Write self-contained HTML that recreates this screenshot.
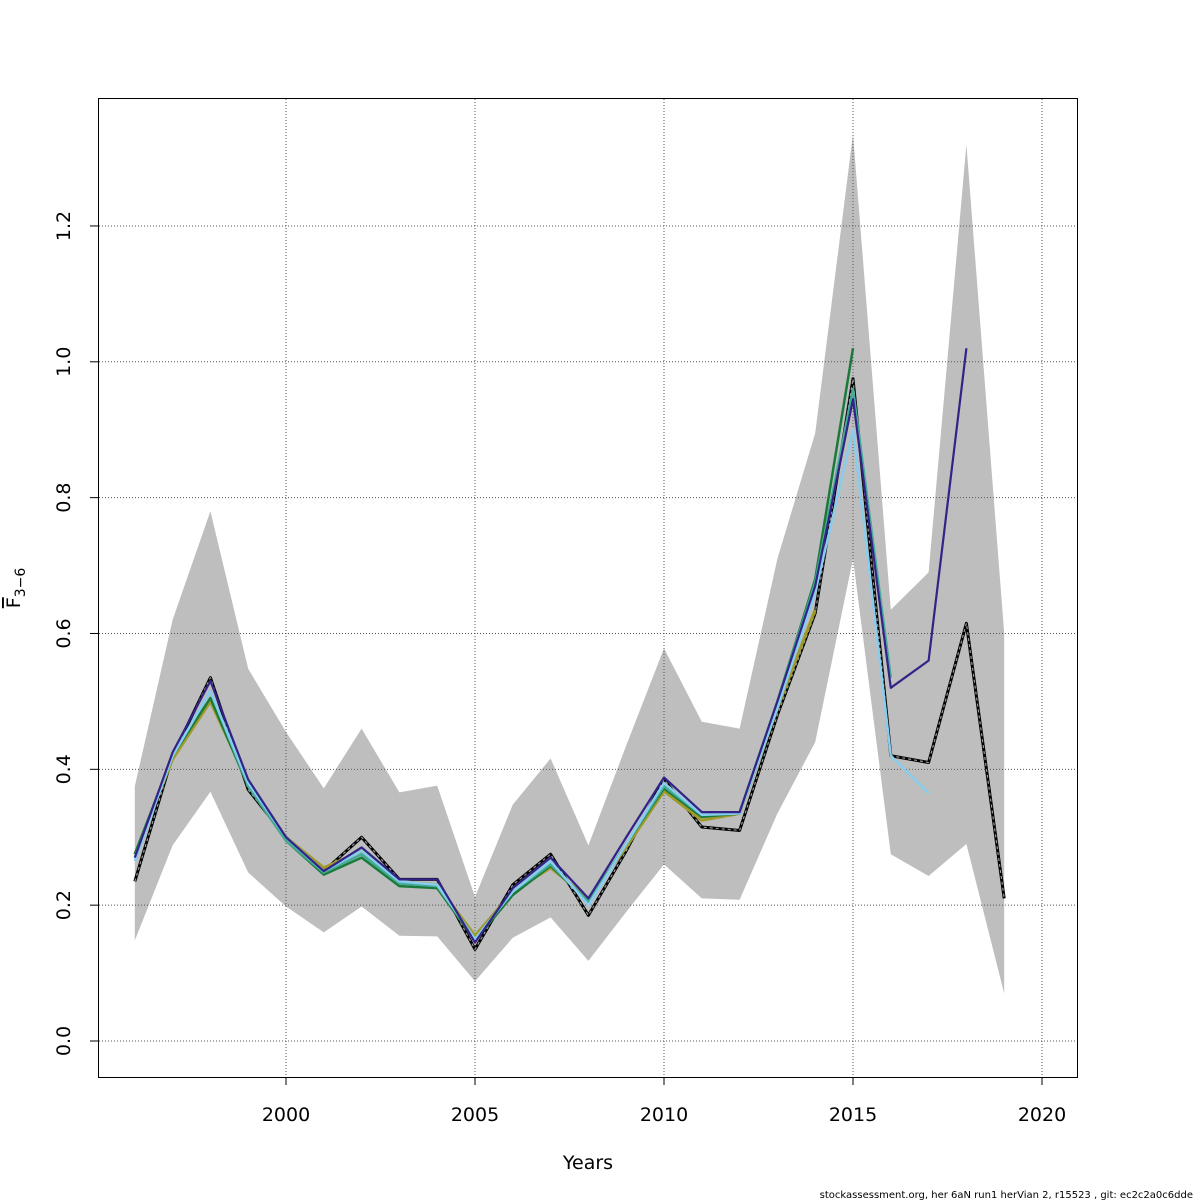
<!DOCTYPE html>
<html><head><meta charset="utf-8"><style>
html,body{margin:0;padding:0;background:#fff;}
svg{display:block;font-family:"DejaVu Sans","Liberation Sans",sans-serif;}
</style></head><body>
<svg id="chart" width="1200" height="1200" viewBox="0 0 1200 1200" xmlns="http://www.w3.org/2000/svg">
<g id="band"></g>
<g id="grid"></g>
<g id="series"></g>
<rect x="98.5" y="98.5" width="979" height="979" fill="none" stroke="#000" stroke-width="1"/>
<g id="axes"></g>
<text x="588" y="1169" font-size="19" text-anchor="middle">Years</text>
<g transform="translate(20,588) rotate(-90)">
<text x="0" y="0" font-size="19" text-anchor="middle"><tspan text-decoration="overline">F</tspan><tspan font-size="14" dy="5">3−6</tspan></text>
</g>
<text x="1193" y="1198" font-size="10" text-anchor="end">stockassessment.org, her 6aN run1 herVian 2, r15523 , git: ec2c2a0c6dde</text>
</svg>
<script>
const years = [1996,1997,1998,1999,2000,2001,2002,2003,2004,2005,2006,2007,2008,2009,2010,2011,2012,2013,2014,2015,2016,2017,2018,2019];
const bandUpper = [0.375,0.62,0.78,0.548,0.455,0.372,0.46,0.366,0.376,0.212,0.348,0.416,0.288,0.435,0.578,0.47,0.46,0.71,0.895,1.335,0.635,0.69,1.32,0.60];
const bandLower = [0.148,0.288,0.367,0.248,0.198,0.16,0.198,0.155,0.154,0.088,0.152,0.182,0.118,0.19,0.26,0.21,0.208,0.335,0.44,0.71,0.275,0.243,0.29,0.07];
const baseRun = [0.235,0.42,0.535,0.37,0.30,0.25,0.30,0.238,0.238,0.135,0.23,0.275,0.185,0.28,0.385,0.315,0.31,0.48,0.63,0.975,0.42,0.41,0.615,0.21];
const peel1 = [0.27,0.425,0.53,0.385,0.30,0.25,0.285,0.238,0.238,0.145,0.225,0.27,0.21,0.30,0.388,0.337,0.337,0.50,0.67,0.945,0.52,0.56,1.02];
const peel2 = [0.265,0.42,0.515,0.38,0.30,0.25,0.28,0.235,0.23,0.15,0.22,0.265,0.20,0.29,0.38,0.333,0.335,0.49,0.66,0.90,0.42,0.365];
const peel3 = [0.27,0.42,0.515,0.375,0.295,0.248,0.275,0.232,0.228,0.15,0.22,0.26,0.205,0.29,0.375,0.333,0.337,0.50,0.675,0.96,0.535];
const peel4 = [0.275,0.42,0.505,0.375,0.295,0.245,0.27,0.228,0.225,0.148,0.215,0.258,0.205,0.29,0.372,0.33,0.335,0.50,0.68,1.02];
const peel5 = [0.275,0.415,0.50,0.38,0.30,0.255,0.28,0.235,0.23,0.155,0.22,0.255,0.21,0.285,0.368,0.325,0.335,0.49,0.635];
const xTicks = [2000,2005,2010,2015,2020];
const yTicks = [0,0.2,0.4,0.6,0.8,1.0,1.2];
const yTickLabels = ["0.0","0.2","0.4","0.6","0.8","1.0","1.2"];

const NS = "http://www.w3.org/2000/svg";
function xs(y){ return 286 + (y - 2000) * 37.8; }
function ys(v){ return 1041 - v * 679.2; }
function mk(tag, attrs, parent){ const e = document.createElementNS(NS, tag); for (const k in attrs) e.setAttribute(k, attrs[k]); parent.appendChild(e); return e; }

const band = document.getElementById('band');
let pts = years.map((y,i)=>xs(y)+','+ys(bandUpper[i]));
for (let i = years.length-1; i >= 0; i--) pts.push(xs(years[i])+','+ys(bandLower[i]));
const poly = mk('polygon', {points: pts.join(' '), fill: '#bebebe', stroke: 'none'}, band);



const grid = document.getElementById('grid');
xTicks.forEach(t => {
  const l = mk('line', {x1: xs(t), x2: xs(t), y1: 99, y2: 1077, stroke: '#555', 'stroke-width': 1, 'stroke-dasharray': '1,2'}, grid);
  
  
});
yTicks.forEach(t => {
  const l = mk('line', {x1: 99, x2: 1077, y1: ys(t), y2: ys(t), stroke: '#555', 'stroke-width': 1, 'stroke-dasharray': '1,2'}, grid);
  
  
});

const series = document.getElementById('series');
function line(data, color, w, name, dash){
  const p = data.map((v,i)=>xs(years[i])+','+ys(v)).join(' ');
  const e = mk('polyline', {points: p, fill: 'none', stroke: color, 'stroke-width': w, 'stroke-linejoin': 'round'}, series);
  if (dash) e.setAttribute('stroke-dasharray', dash);
  
  
}
line(baseRun, '#000', 3, 'base-run-line-outer');
line(baseRun, '#999', 1.2, 'base-run-line-dash', '3,3');
line(peel5, '#a09a2a', 3, 'peel-5-line');
line(peel4, '#1a7a3a', 2.5, 'peel-4-line');
line(peel3, '#44aa99', 2.5, 'peel-3-line');
line(peel2, '#88ccee', 2.5, 'peel-2-line');
line(peel1, '#332288', 2.2, 'peel-1-line');

const axes = document.getElementById('axes');
xTicks.forEach(t => {
  const l = mk('line', {x1: xs(t), x2: xs(t), y1: 1077, y2: 1085, stroke: '#000'}, axes);
  
  
  const tx = mk('text', {x: xs(t), y: 1121, 'font-size': 19, 'text-anchor': 'middle'}, axes);
  tx.textContent = t;
  
  
});
yTicks.forEach((t,i) => {
  const l = mk('line', {x1: 90, x2: 98, y1: ys(t), y2: ys(t), stroke: '#000'}, axes);
  
  
  const tx = mk('text', {x: 0, y: 0, 'font-size': 19, 'text-anchor': 'middle', transform: 'translate(70,'+ys(t)+') rotate(-90)'}, axes);
  tx.textContent = yTickLabels[i];
  
  
});
</script>
</body></html>
